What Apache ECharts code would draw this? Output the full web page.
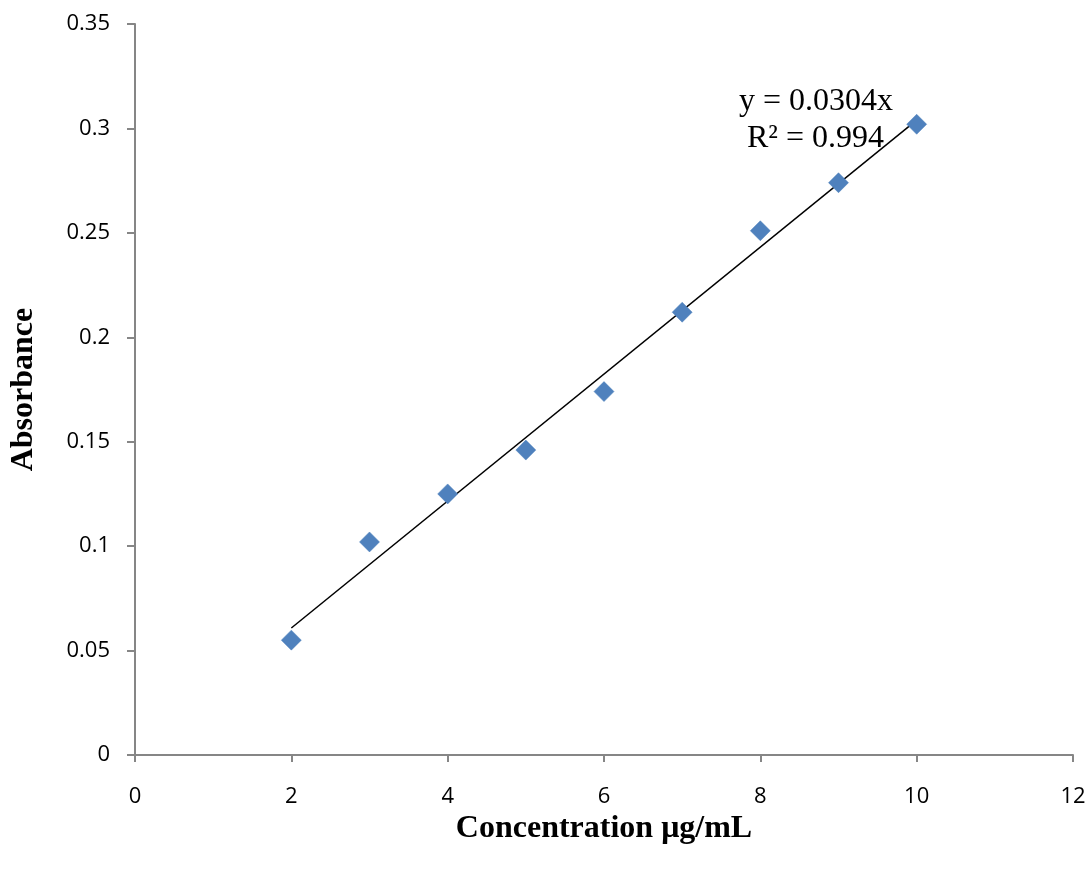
<!DOCTYPE html>
<html style="height: 100%">
<head>
    <meta charset="UTF-8" />
    <title>Absorbance vs Concentration</title>
    <script src="https://cdn.jsdelivr.net/npm/echarts@6/dist/echarts.min.js"></script>
</head>
<body style="margin:0;height:100%;background:#fff">
    <div id="main" style="width:1091px;height:873px;"></div>
    <script>
        // measured points
        var concentration = [2, 3, 4, 5, 6, 7, 8, 9, 10];
        var absorbance = [0.055, 0.102, 0.125, 0.146, 0.174, 0.212, 0.251, 0.274, 0.302];
        // linear trendline y = 0.0304x, drawn from x=2 to x=10
        var slope = 0.0304;
        var trendX = [2, 10];
        var eqText = ['y = 0.0304x', 'R² = 0.994'];

        var points = concentration.map(function (c, i) { return [c, absorbance[i]]; });
        var trend = trendX.map(function (x) { return [x, +(slope * x).toFixed(4)]; });

        var axisGray = '#868686';
        var app = echarts.init(document.getElementById('main'));
        var option = {
            animation: false,
            grid: {left: 135, right: 18, top: 24, bottom: 118, containLabel: false, outerBoundsMode: 'none'},
            xAxis: {
                type: 'value',
                min: 0, max: 12, interval: 2,
                splitLine: {show: false},
                axisLine: {lineStyle: {color: axisGray, width: 2}},
                axisTick: {show: true, length: 7, lineStyle: {color: axisGray, width: 2}},
                axisLabel: {color: '#000', fontSize: 22, fontFamily: 'Open Sans', margin: 31},
                name: 'Concentration μg/mL',
                nameLocation: 'middle',
                nameGap: 56,
                nameTextStyle: {color: '#000', fontSize: 32, fontWeight: 'bold', fontFamily: 'Liberation Serif'}
            },
            yAxis: {
                type: 'value',
                min: 0, max: 0.35, interval: 0.05,
                splitLine: {show: false},
                axisLine: {show: true, lineStyle: {color: axisGray, width: 2}},
                axisTick: {show: true, length: 8, lineStyle: {color: axisGray, width: 2}},
                axisLabel: {color: '#000', fontSize: 22, fontFamily: 'Open Sans', margin: 25},
                name: 'Absorbance',
                nameLocation: 'middle',
                nameGap: 95,
                nameTextStyle: {color: '#000', fontSize: 32, fontWeight: 'bold', fontFamily: 'Liberation Serif'}
            },
            graphic: [
                {type: 'text', left: 739, top: 86, style: {text: eqText[0], fill: '#000', font: '32px "Liberation Serif"'}},
                {type: 'text', left: 747, top: 123, style: {text: eqText[1], fill: '#000', font: '32px "Liberation Serif"'}}
            ],
            series: [
                {
                    name: 'Trend',
                    type: 'line',
                    data: trend,
                    symbol: 'none',
                    lineStyle: {color: '#000', width: 1.5},
                    z: 1
                },
                {
                    name: 'Absorbance',
                    type: 'scatter',
                    data: points,
                    symbol: 'diamond',
                    symbolSize: [20, 20],
                    itemStyle: {color: '#4F81BD', opacity: 1, borderColor: '#4A7EBB', borderWidth: 0.5},
                    z: 2
                }
            ]
        };
        app.setOption(option);
    </script>
</body>
</html>
